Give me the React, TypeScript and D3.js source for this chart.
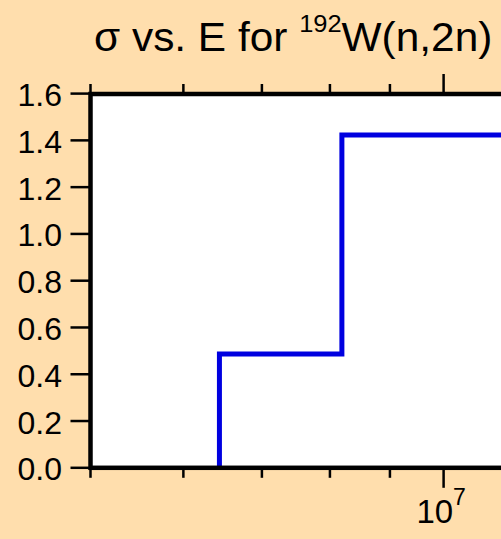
import React from 'react';
import * as d3 from 'd3';

// Data (energy in eV, cross-section in barns)
const energy = [6.44e6, 6.44e6, 8.19e6, 3.0e7];
const sigma = [0, 0.487, 1.423, 1.423];
const yTickValues = [0, 0.2, 0.4, 0.6, 0.8, 1.0, 1.2, 1.4, 1.6];
const yTickLabels = ['0.0', '0.2', '0.4', '0.6', '0.8', '1.0', '1.2', '1.4', '1.6'];
const xMinorTicks = [5e6, 6e6, 7e6, 8e6, 9e6, 2e7];
const xMajorTicks = [1e7];

const W = 501;
const H = 539;
const LEFT = 90.5;
const TOP = 94;
const BOTTOM = 467.8;
const FONT = '"Liberation Sans", Arial, Helvetica, sans-serif';
const SX_TITLE = 1.06;

export default function App() {
  const x = d3.scaleLog().domain([5e6, 1e7]).range([LEFT, 443.6]);
  const y = d3.scaleLinear().domain([0, 1.6]).range([BOTTOM, 93.6]);
  const pts: [number, number][] = energy.map((e, i) => [e, sigma[i]]);
  const line = d3
    .line<[number, number]>()
    .x((d) => x(d[0]))
    .y((d) => y(d[1]))
    .curve(d3.curveStepAfter);
  const rightEdge = x(3e7);

  return (
    <svg
      width={W}
      height={H}
      style={{ position: 'absolute', left: 0, top: 0, display: 'block', overflow: 'hidden' }}
      fontFamily={FONT}
    >
      <rect x={0} y={0} width={W} height={H} fill="#ffdead" />
      <rect x={LEFT} y={TOP} width={rightEdge - LEFT} height={BOTTOM - TOP} fill="#ffffff" />
      <path d={line(pts) || ''} fill="none" stroke="#0000e0" strokeWidth={5} strokeLinejoin="miter" strokeLinecap="butt" />
      <rect
        x={LEFT}
        y={TOP}
        width={rightEdge - LEFT}
        height={BOTTOM - TOP}
        fill="none"
        stroke="#000"
        strokeWidth={4.5}
      />
      {/* y ticks */}
      {yTickValues.map((v, i) => (
        <g key={'y' + i}>
          <line x1={LEFT - 20} x2={LEFT} y1={y(v)} y2={y(v)} stroke="#000" strokeWidth={2.5} />
          <text x={62} y={y(v) + 12.5} textAnchor="end" fontSize={32} fill="#000">
            {yTickLabels[i]}
          </text>
        </g>
      ))}
      {/* x ticks */}
      {xMinorTicks.map((v, i) => (
        <g key={'xm' + i}>
          <line x1={x(v)} x2={x(v)} y1={TOP - 10} y2={TOP} stroke="#000" strokeWidth={2.5} />
          <line x1={x(v)} x2={x(v)} y1={BOTTOM} y2={BOTTOM + 10} stroke="#000" strokeWidth={2.5} />
        </g>
      ))}
      {xMajorTicks.map((v, i) => (
        <g key={'xM' + i}>
          <line x1={x(v)} x2={x(v)} y1={TOP - 20} y2={TOP} stroke="#000" strokeWidth={2.5} />
          <line x1={x(v)} x2={x(v)} y1={BOTTOM} y2={BOTTOM + 20} stroke="#000" strokeWidth={2.5} />
          <text x={x(v) - 27.2} y={522.8} fontSize={33} fill="#000">
            10
            <tspan fontSize={23} dy={-17.5}>
              7
            </tspan>
          </text>
        </g>
      ))}
      {/* title */}
      <g transform={`translate(94,50.5) scale(${SX_TITLE},1)`}>
        <text fontSize={40} fill="#000">
          <tspan>σ vs. E for </tspan>
          <tspan fontSize={24} dy={-18.5}>
            192
          </tspan>
          <tspan dy={18.5}>W(n,2n)</tspan>
        </text>
      </g>
    </svg>
  );
}
